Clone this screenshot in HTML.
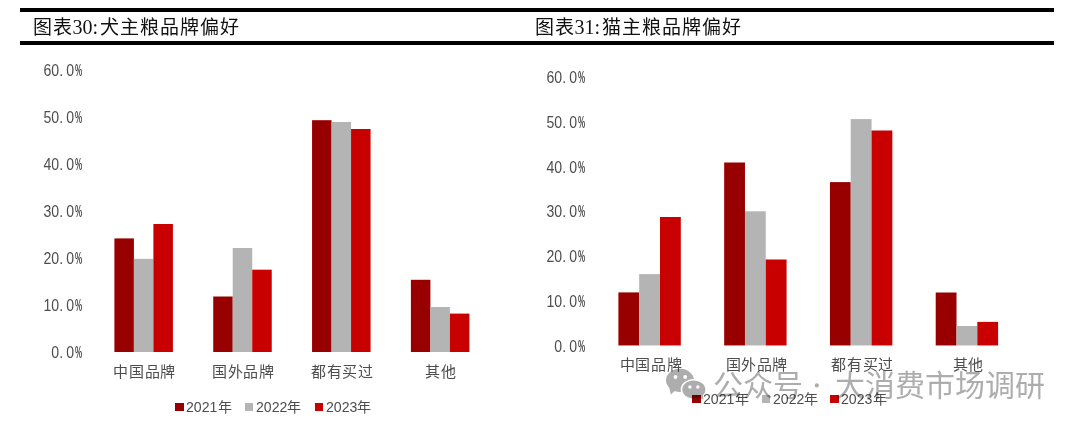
<!DOCTYPE html>
<html lang="zh-CN"><head><meta charset="utf-8">
<style>
html,body{margin:0;padding:0;background:#fff;}
body{width:1080px;height:429px;position:relative;overflow:hidden;font-family:"Liberation Sans",sans-serif;}
.rule{position:absolute;left:20px;width:1034px;height:4px;background:#000;}
.title{position:absolute;top:13.5px;font-family:"Liberation Serif",serif;font-size:20px;line-height:26px;color:#111;white-space:nowrap;}
.yl{position:absolute;width:80px;text-align:right;font-size:16px;line-height:18px;color:#4d4d4d;white-space:nowrap;transform:scaleX(0.88);transform-origin:100% 50%;}
.yl .sp{display:inline-block;width:3.5px;}
.pc{position:absolute;font-size:16px;font-weight:bold;line-height:18px;color:#4d4d4d;transform:scaleX(0.5);transform-origin:0 50%;}
.bars{position:absolute;left:0;top:0;}
.title .cj{font-size:19px;letter-spacing:1px;}
.cat{position:absolute;width:100px;text-align:center;font-family:"Liberation Serif",serif;font-size:15px;line-height:20px;letter-spacing:0.6px;color:#4d4d4d;white-space:nowrap;}
.sq{position:absolute;width:8.5px;height:8px;}
.lg{position:absolute;font-size:14px;line-height:16px;color:#4d4d4d;white-space:nowrap;}
.lg .nian{font-family:"Liberation Serif",serif;}
.lg .d{display:inline-block;font-size:15px;transform:scaleX(0.94);transform-origin:0 50%;margin-right:-2px;}
.wm{position:absolute;top:367.5px;font-size:30px;font-weight:400;line-height:36px;color:#adadad;white-space:nowrap;mix-blend-mode:multiply;}
.wx{position:absolute;left:0;top:0;mix-blend-mode:multiply;}
</style></head><body>
<div class="rule" style="top:8px"></div>
<div class="rule" style="top:41px"></div>
<div class="title" style="left:32.5px"><span class="cj">图表</span>30:<span class="cj" style="margin-left:1.8px">犬主粮品牌偏好</span></div>
<div class="title" style="left:534.5px"><span class="cj">图表</span>31:<span class="cj" style="margin-left:1.8px">猫主粮品牌偏好</span></div>
<div class="yl" style="left:-6.3px;top:343.5px">0.<span class="sp"></span>0</div>
<div class="pc" style="left:74.9px;top:343.5px">%</div>
<div class="yl" style="left:-6.3px;top:296.5px">10.<span class="sp"></span>0</div>
<div class="pc" style="left:74.9px;top:296.5px">%</div>
<div class="yl" style="left:-6.3px;top:249.5px">20.<span class="sp"></span>0</div>
<div class="pc" style="left:74.9px;top:249.5px">%</div>
<div class="yl" style="left:-6.3px;top:202.5px">30.<span class="sp"></span>0</div>
<div class="pc" style="left:74.9px;top:202.5px">%</div>
<div class="yl" style="left:-6.3px;top:155.5px">40.<span class="sp"></span>0</div>
<div class="pc" style="left:74.9px;top:155.5px">%</div>
<div class="yl" style="left:-6.3px;top:108.5px">50.<span class="sp"></span>0</div>
<div class="pc" style="left:74.9px;top:108.5px">%</div>
<div class="yl" style="left:-6.3px;top:61.5px">60.<span class="sp"></span>0</div>
<div class="pc" style="left:74.9px;top:61.5px">%</div>
<svg class="bars" width="1080" height="429" viewBox="0 0 1080 429"><rect x="114.40" y="238.40" width="19.50" height="113.60" fill="#980000"/><rect x="133.90" y="258.90" width="19.50" height="93.10" fill="#b4b4b4"/><rect x="153.40" y="224.00" width="19.50" height="128.00" fill="#c80000"/><rect x="213.23" y="296.50" width="19.50" height="55.50" fill="#980000"/><rect x="232.73" y="248.00" width="19.50" height="104.00" fill="#b4b4b4"/><rect x="252.23" y="269.70" width="19.50" height="82.30" fill="#c80000"/><rect x="312.06" y="120.20" width="19.50" height="231.80" fill="#980000"/><rect x="331.56" y="122.00" width="19.50" height="230.00" fill="#b4b4b4"/><rect x="351.06" y="129.00" width="19.50" height="223.00" fill="#c80000"/><rect x="410.89" y="279.80" width="19.50" height="72.20" fill="#980000"/><rect x="430.39" y="307.00" width="19.50" height="45.00" fill="#b4b4b4"/><rect x="449.89" y="313.60" width="19.50" height="38.40" fill="#c80000"/></svg>
<div class="cat" style="left:94.7px;top:362px">中国品牌</div>
<div class="cat" style="left:193.5px;top:362px">国外品牌</div>
<div class="cat" style="left:292.3px;top:362px">都有买过</div>
<div class="cat" style="left:391.1px;top:362px">其他</div>
<div class="sq" style="left:175.3px;top:403px;background:#980000"></div>
<div class="lg" style="left:186.3px;top:399px"><span class="d">2021</span><span class="nian">年</span></div>
<div class="sq" style="left:244.9px;top:403px;background:#b4b4b4"></div>
<div class="lg" style="left:255.9px;top:399px"><span class="d">2022</span><span class="nian">年</span></div>
<div class="sq" style="left:314.9px;top:403px;background:#c80000"></div>
<div class="lg" style="left:325.9px;top:399px"><span class="d">2023</span><span class="nian">年</span></div>
<div class="yl" style="left:497.2px;top:337.6px">0.<span class="sp"></span>0</div>
<div class="pc" style="left:578.4px;top:337.6px">%</div>
<div class="yl" style="left:497.2px;top:292.9px">10.<span class="sp"></span>0</div>
<div class="pc" style="left:578.4px;top:292.9px">%</div>
<div class="yl" style="left:497.2px;top:248.1px">20.<span class="sp"></span>0</div>
<div class="pc" style="left:578.4px;top:248.1px">%</div>
<div class="yl" style="left:497.2px;top:203.4px">30.<span class="sp"></span>0</div>
<div class="pc" style="left:578.4px;top:203.4px">%</div>
<div class="yl" style="left:497.2px;top:158.6px">40.<span class="sp"></span>0</div>
<div class="pc" style="left:578.4px;top:158.6px">%</div>
<div class="yl" style="left:497.2px;top:113.9px">50.<span class="sp"></span>0</div>
<div class="pc" style="left:578.4px;top:113.9px">%</div>
<div class="yl" style="left:497.2px;top:69.1px">60.<span class="sp"></span>0</div>
<div class="pc" style="left:578.4px;top:69.1px">%</div>
<svg class="bars" width="1080" height="429" viewBox="0 0 1080 429"><rect x="618.40" y="292.40" width="20.80" height="53.05" fill="#980000"/><rect x="639.20" y="274.10" width="20.80" height="71.35" fill="#b4b4b4"/><rect x="660.00" y="217.00" width="20.80" height="128.45" fill="#c80000"/><rect x="724.17" y="162.50" width="20.80" height="182.95" fill="#980000"/><rect x="744.97" y="211.30" width="20.80" height="134.15" fill="#b4b4b4"/><rect x="765.77" y="259.50" width="20.80" height="85.95" fill="#c80000"/><rect x="829.94" y="182.10" width="20.80" height="163.35" fill="#980000"/><rect x="850.74" y="119.10" width="20.80" height="226.35" fill="#b4b4b4"/><rect x="871.54" y="130.50" width="20.80" height="214.95" fill="#c80000"/><rect x="935.71" y="292.50" width="20.80" height="52.95" fill="#980000"/><rect x="956.51" y="326.00" width="20.80" height="19.45" fill="#b4b4b4"/><rect x="977.31" y="321.90" width="20.80" height="23.55" fill="#c80000"/></svg>
<div class="cat" style="left:601.1px;top:355px">中国品牌</div>
<div class="cat" style="left:706.9px;top:355px">国外品牌</div>
<div class="cat" style="left:812.6px;top:355px">都有买过</div>
<div class="cat" style="left:918.4px;top:355px">其他</div>
<div class="sq" style="left:692.2px;top:395.2px;background:#980000"></div>
<div class="lg" style="left:703.2px;top:391.2px"><span class="d">2021</span><span class="nian">年</span></div>
<div class="sq" style="left:761.5px;top:395.2px;background:#b4b4b4"></div>
<div class="lg" style="left:772.5px;top:391.2px"><span class="d">2022</span><span class="nian">年</span></div>
<div class="sq" style="left:830.3px;top:395.2px;background:#c80000"></div>
<div class="lg" style="left:841.3px;top:391.2px"><span class="d">2023</span><span class="nian">年</span></div>
<svg class="wx" width="1080" height="429" viewBox="0 0 1080 429">
<path d="M674.76 391.06 A14 11.6 0 1 0 669.28 387.76 L670.8 394.6 Z" fill="#adadad"/>
<circle cx="675.5" cy="377" r="1.9" fill="#fff"/><circle cx="685.2" cy="377" r="1.9" fill="#fff"/>
<path d="M699.07 398.43 A12.35 9.8 0 1 1 703.58 395.58 L704.8 401.3 Z" fill="#adadad" stroke="#fff" stroke-width="1.6"/>
<circle cx="689.9" cy="387" r="1.7" fill="#fff"/><circle cx="697.8" cy="387" r="1.7" fill="#fff"/>
<circle cx="816.8" cy="385.4" r="2.1" fill="#adadad"/>
</svg>
<div class="wm" style="left:713px">公众号</div>
<div class="wm" style="left:834.5px">大消费市场调研</div>
</body></html>
